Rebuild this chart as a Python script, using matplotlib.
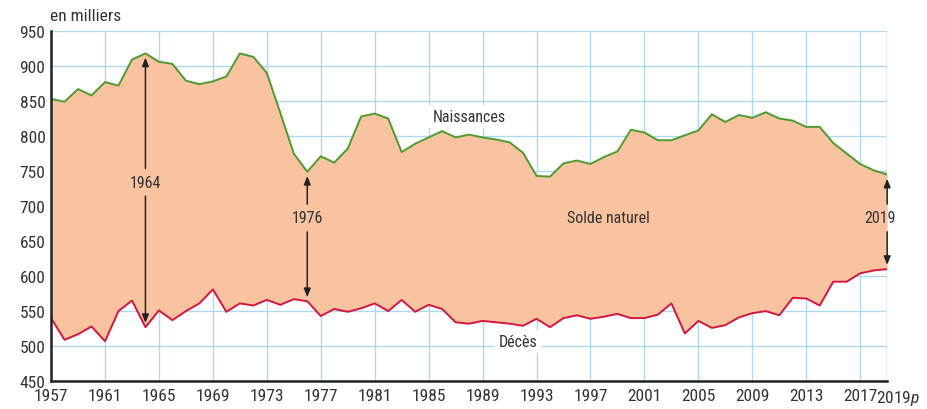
import matplotlib
matplotlib.use("Agg")
import matplotlib.pyplot as plt
from matplotlib import font_manager

years = list(range(1957, 2020))
naissances = [853, 849, 867, 858, 877, 872, 909, 918, 906, 903,
              879, 874, 878, 885, 918, 913, 890, 833, 775, 749,
              771, 762, 782, 828, 832, 825, 777, 789, 798, 807,
              798, 802, 798, 795, 791, 776, 743, 742, 761, 765,
              760, 770, 778, 809, 805, 794, 794, 801, 808, 831,
              820, 830, 826, 834, 825, 822, 813, 813, 790, 775,
              760, 751, 745]
deces = [540, 509, 517, 528, 507, 550, 565, 527, 551, 537,
         550, 561, 581, 549, 561, 558, 566, 559, 567, 564,
         543, 553, 549, 554, 561, 550, 566, 549, 559, 553,
         534, 532, 536, 534, 532, 529, 539, 527, 540, 544,
         539, 542, 546, 540, 540, 545, 561, 518, 536, 526,
         530, 541, 547, 550, 544, 569, 568, 558, 592, 592,
         604, 608, 610]
xtick_years = [1957, 1961, 1965, 1969, 1973, 1977, 1981, 1985, 1989,
               1993, 1997, 2001, 2005, 2009, 2013, 2017, 2019]
xtick_labels = [str(y) for y in xtick_years[:-1]] + [""]
last_label = "2019$\\it{p}$"
yticks = list(range(450, 951, 50))
arrow_years = [1964, 1976, 2019]
arrow_label_y = [734, 683, 683]
arrow_label_dx = [0, 0, -5]

avail = {f.name for f in font_manager.fontManager.ttflist}
fam = "Liberation Sans"
for cand in ["Liberation Sans Narrow", "Roboto Condensed", "Open Sans Condensed",
             "Noto Sans Condensed", "Arial Narrow"]:
    if cand in avail:
        fam = cand
        break
narrow = fam != "Liberation Sans"
plt.rcParams["font.family"] = [fam, "DejaVu Sans"]
plt.rcParams["mathtext.fontset"] = "custom"
plt.rcParams["mathtext.rm"] = fam
plt.rcParams["mathtext.it"] = fam + ":italic"

TICK_FS = 12.5 if narrow else 11
LAB_FS = 11.5 if narrow else 10.5

TXT = "#333333"
FILL = "#F9C3A0"
GREEN = "#4E9A2E"
RED = "#D3173F"
GRID = "#ADD8F0"
INK = "#222222"

fig = plt.figure(figsize=(9.28, 4.10), dpi=100)
ax = fig.add_axes([0.055, 0.068, 0.901, 0.854])

ax.set_xlim(1957, 2019)
ax.set_ylim(450, 950)
ax.set_xticks(xtick_years)
ax.set_xticklabels(xtick_labels)
ax.set_yticks(yticks)
ax.grid(True, color=GRID, linewidth=1.0, zorder=0)
ax.set_axisbelow(True)
ax.tick_params(length=0, labelsize=TICK_FS, colors=TXT)
ax.tick_params(axis="x", pad=5)
ax.tick_params(axis="y", pad=4)

for s in ["top", "right"]:
    ax.spines[s].set_visible(False)
for s in ["left", "bottom"]:
    ax.spines[s].set_linewidth(1.8)
    ax.spines[s].set_color(INK)
    ax.spines[s].set_zorder(5)
ax.axvline(2019, color=GRID, linewidth=1.0, zorder=0)

# last tick label, nudged right as in the reference
ax.annotate(last_label, xy=(2019, 0), xycoords=("data", "axes fraction"),
            xytext=(-8, -5), textcoords="offset points", ha="left", va="top",
            fontsize=TICK_FS, color=TXT)

ax.fill_between(years, deces, naissances, color=FILL, linewidth=0, zorder=2)
ax.plot(years, naissances, color=GREEN, linewidth=1.4, zorder=3)
ax.plot(years, deces, color=RED, linewidth=1.4, zorder=3)

aprops = dict(arrowstyle="-|>,head_length=0.5,head_width=0.2", color=INK, lw=1.1,
              shrinkA=10, shrinkB=3)
for yr, ly, dx in zip(arrow_years, arrow_label_y, arrow_label_dx):
    i = years.index(yr)
    ax.annotate("", xy=(yr, naissances[i]), xytext=(yr, ly), arrowprops=aprops, zorder=4)
    ax.annotate("", xy=(yr, deces[i]), xytext=(yr, ly), arrowprops=aprops, zorder=4)
    ax.annotate(str(yr), xy=(yr, ly), xytext=(dx, 0), textcoords="offset points",
                ha="center", va="center", fontsize=LAB_FS, color=TXT, zorder=6)

ax.text(1988, 828, "Naissances", ha="center", va="center", fontsize=LAB_FS, color=TXT,
        zorder=6, bbox=dict(facecolor="white", edgecolor="none", pad=3))
ax.text(1991.6, 507, "Décès", ha="center", va="center", fontsize=LAB_FS, color=TXT,
        zorder=6, bbox=dict(facecolor="white", edgecolor="none", pad=3))
ax.text(1998.3, 683, "Solde naturel", ha="center", va="center", fontsize=LAB_FS,
        color=TXT, zorder=6)

fig.text(0.054, 0.96, "en milliers", ha="left", va="center", fontsize=TICK_FS, color=TXT)

fig.savefig("out.png", dpi=100)
